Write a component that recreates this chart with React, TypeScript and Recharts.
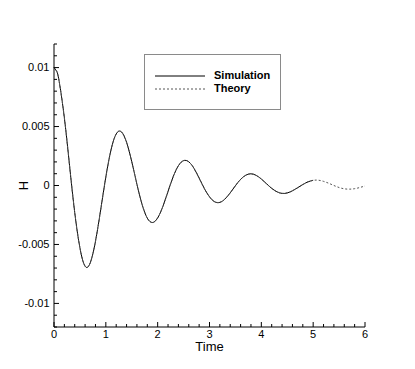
import React from 'react';
import { LineChart, Line, XAxis, YAxis, Legend } from 'recharts';

const TIME = [0, 0.05, 0.1, 0.2, 0.3, 0.4, 0.5, 0.6, 0.7, 0.8, 0.9, 1.0, 1.1, 1.2, 1.3, 1.4, 1.5, 1.6, 1.7, 1.8, 1.9, 2.0, 2.1, 2.2, 2.3, 2.4, 2.5, 2.6, 2.7, 2.8, 2.9, 3.0, 3.1, 3.2, 3.3, 3.4, 3.5, 3.6, 3.7, 3.8, 3.9, 4.0, 4.1, 4.2, 4.3, 4.4, 4.5, 4.6, 4.7, 4.8, 4.9, 5.0, 5.1, 5.2, 5.3, 5.4, 5.5, 5.6, 5.7, 5.8, 5.9, 6.0];

const THEORY = [0.01, 0.0097, 0.00882, 0.00574, 0.00169, -0.00229, -0.00528, -0.00685, -0.00655, -0.00474, -0.00208, 0.00072, 0.00302, 0.00437, 0.00455, 0.00366, 0.00202, 0.00011, -0.00161, -0.00277, -0.00314, -0.00275, -0.00178, -0.0005, 0.00075, 0.00168, 0.00211, 0.00201, 0.00146, 0.00063, -0.00025, -0.00096, -0.00138, -0.00143, -0.00114, -0.00062, -0.00002, 0.00052, 0.00087, 0.00099, 0.00086, 0.00055, 0.00015, -0.00024, -0.00053, -0.00067, -0.00063, -0.00045, -0.00019, 0.00008, 0.00031, 0.00044, 0.00045, 0.00035, 0.00019, 0.0, -0.00017, -0.00028, -0.00031, -0.00027, -0.00017, -0.00004];

const SIMULATION = [0.01, 0.0097, 0.00882, 0.00574, 0.00169, -0.00229, -0.00528, -0.00685, -0.00655, -0.00474, -0.00208, 0.00072, 0.00302, 0.00437, 0.00455, 0.00366, 0.00202, 0.00011, -0.00161, -0.00277, -0.00314, -0.00275, -0.00178, -0.0005, 0.00075, 0.00168, 0.00211, 0.00201, 0.00146, 0.00063, -0.00025, -0.00096, -0.00138, -0.00143, -0.00114, -0.00062, -0.00002, 0.00052, 0.00087, 0.00099, 0.00086, 0.00055, 0.00015, -0.00024, -0.00053, -0.00067, -0.00063, -0.00045, -0.00019, 0.00008, 0.00031, 0.00044];

const X_TICKS = [0, 0.2, 0.4, 0.6, 0.8, 1, 1.2, 1.4, 1.6, 1.8, 2, 2.2, 2.4, 2.6, 2.8, 3, 3.2, 3.4, 3.6, 3.8, 4, 4.2, 4.4, 4.6, 4.8, 5, 5.2, 5.4, 5.6, 5.8, 6];
const Y_TICKS = [-0.012, -0.011, -0.01, -0.009, -0.008, -0.007, -0.006, -0.005, -0.004, -0.003, -0.002, -0.001, 0, 0.001, 0.002, 0.003, 0.004, 0.005, 0.006, 0.007, 0.008, 0.009, 0.01, 0.011, 0.012];
const X_MAJOR = [0, 1, 2, 3, 4, 5, 6];
const Y_MAJOR = [-0.01, -0.005, 0, 0.005, 0.01];

const data = TIME.map((t, i) => ({
  t,
  theory: THEORY[i],
  simulation: i < SIMULATION.length ? SIMULATION[i] : undefined,
}));

const FONT = '"Liberation Sans", Arial, Helvetica, sans-serif';

const isIn = (list: number[], v: number) => list.some((m) => Math.abs(m - v) < 1e-9);

const XTick = (props: any) => {
  const { x, y, payload } = props;
  const v = payload.value;
  const major = isIn(X_MAJOR, v);
  return (
    <g>
      <line x1={x} x2={x} y1={y} y2={y - (major ? 5 : 3)} stroke="#000" strokeWidth={1} />
      {major && (
        <text x={x} y={y + 11} textAnchor="middle" fontSize={11} fontFamily={FONT} fill="#000">
          {String(v)}
        </text>
      )}
    </g>
  );
};

const YTick = (props: any) => {
  const { x, y, payload } = props;
  const v = payload.value;
  const major = isIn(Y_MAJOR, v);
  return (
    <g>
      <line x1={x} x2={x + (major ? 5 : 3)} y1={y} y2={y} stroke="#000" strokeWidth={1} />
      {major && (
        <text x={x - 4.5} y={y} dy="0.35em" textAnchor="end" fontSize={11} fontFamily={FONT} fill="#000">
          {Math.abs(v) < 1e-12 ? '0' : String(v)}
        </text>
      )}
    </g>
  );
};

const LegendBox = (props: any) => {
  const payload = props.payload || [];
  return (
    <div
      style={{
        width: 137,
        height: 56,
        border: '1px solid #8a8a8a',
        boxSizing: 'border-box',
        background: '#fff',
        paddingTop: 14,
        paddingLeft: 10,
      }}
    >
      {payload.map((entry: any) => (
        <div key={entry.value} style={{ display: 'flex', alignItems: 'center', height: 13 }}>
          <svg width={50} height={4} style={{ display: 'block' }}>
            <line
              x1={0}
              x2={50}
              y1={2}
              y2={2}
              stroke={entry.color}
              strokeWidth={1}
              strokeDasharray={entry.payload && entry.payload.strokeDasharray}
            />
          </svg>
          <span
            style={{
              marginLeft: 9,
              fontFamily: FONT,
              fontWeight: 'bold',
              fontSize: 11,
              color: '#000',
              lineHeight: '13px',
            }}
          >
            {entry.value}
          </span>
        </div>
      ))}
    </div>
  );
};

export default function App() {
  return (
    <div style={{ position: 'absolute', left: 0, top: 0, width: 415, height: 369, background: '#fff' }}>
      <LineChart width={415} height={369} data={data} margin={{ top: 44, right: 50, left: 0, bottom: 0 }}>
        <XAxis
          dataKey="t"
          type="number"
          domain={[0, 6]}
          ticks={X_TICKS}
          interval={0}
          height={42}
          tickSize={0}
          tickMargin={0}
          tick={<XTick />}
          axisLine={{ stroke: '#000', strokeWidth: 1 }}
          label={{ value: 'Time', position: 'insideTop', offset: 15, fontSize: 13, fontFamily: FONT, fill: '#000' }}
        />
        <YAxis
          type="number"
          domain={[-0.012, 0.012]}
          ticks={Y_TICKS}
          interval={0}
          width={54}
          tickSize={0}
          tickMargin={0}
          tick={<YTick />}
          axisLine={{ stroke: '#000', strokeWidth: 1 }}
          label={{
            value: 'H',
            angle: -90,
            position: 'insideLeft',
            offset: 23,
            fontSize: 13,
            fontFamily: FONT,
            fill: '#000',
            style: { textAnchor: 'middle' },
          }}
        />
        <Legend
          layout="horizontal"
          verticalAlign="middle"
          align="center"
          content={<LegendBox />}
          wrapperStyle={{ position: 'absolute', left: 144, top: 54, width: 137, height: 56 }}
        />
        <Line
          name="Simulation"
          dataKey="simulation"
          type="natural"
          stroke="#000"
          strokeWidth={1}
          dot={false}
          activeDot={false}
          isAnimationActive={false}
        />
        <Line
          name="Theory"
          dataKey="theory"
          type="natural"
          stroke="#555"
          strokeWidth={1}
          strokeDasharray="2 2"
          dot={false}
          activeDot={false}
          isAnimationActive={false}
        />
      </LineChart>
    </div>
  );
}
